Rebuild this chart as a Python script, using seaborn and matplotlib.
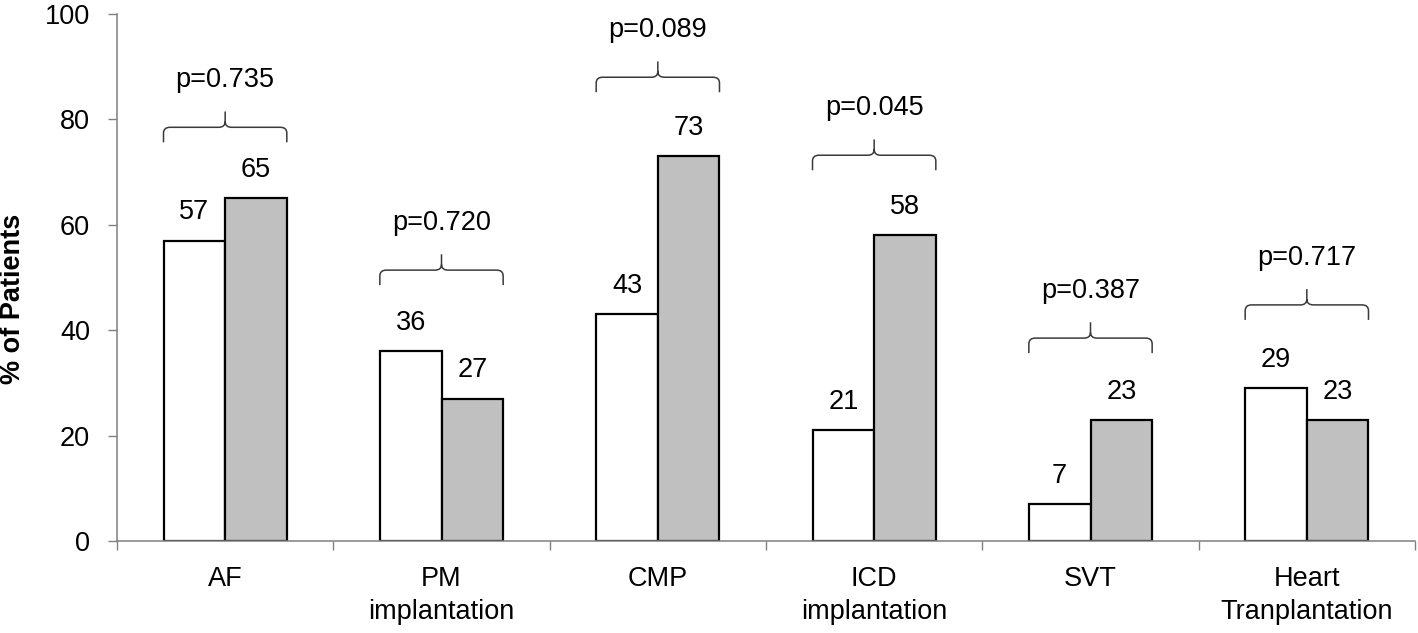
import numpy as np
import pandas as pd
import matplotlib
matplotlib.use("Agg")
import matplotlib.pyplot as plt
from matplotlib.path import Path
from matplotlib.patches import PathPatch
import seaborn as sns

# Values
categories = ["AF", "PM\nimplantation", "CMP", "ICD\nimplantation", "SVT", "Heart\nTranplantation"]
group_a = [57, 36, 43, 21, 7, 29]
group_b = [65, 27, 73, 58, 23, 23]
p_values = ["p=0.735", "p=0.720", "p=0.089", "p=0.045", "p=0.387", "p=0.717"]
brace_levels = [78.5, 51.4, 88.0, 73.2, 38.5, 44.8]

FS = 19.5

sns.set_style("ticks")
plt.rcParams["font.family"] = ["Liberation Sans", "DejaVu Sans"]
plt.rcParams.update({
    "text.color": "black",
    "axes.labelcolor": "black",
    "xtick.labelcolor": "black",
    "ytick.labelcolor": "black",
})

df = pd.DataFrame({
    "category": categories * 2,
    "group": ["A"] * len(categories) + ["B"] * len(categories),
    "percent": group_a + group_b,
})

fig = plt.figure(figsize=(14.18, 6.33), dpi=100)
ax = fig.add_axes([117 / 1418, 92 / 633, 1298 / 1418, 527 / 633])

sns.barplot(
    data=df, x="category", y="percent", hue="group", order=categories,
    palette=["white", "#c0c0c0"], edgecolor="black", linewidth=1.6,
    width=0.57, legend=False, ax=ax,
)

# value labels above bars
for cont in ax.containers:
    ax.bar_label(cont, padding=11, fontsize=FS, color="black")

# curly braces with p-values over each pair
axis_gray = "#808080"
brace_color = "#3a3a3a"
drop, rise, rx, ry = 2.85, 3.0, 0.03, 1.1
for i, h in enumerate(brace_levels):
    left_bar = ax.containers[0][i]
    right_bar = ax.containers[1][i]
    x0 = left_bar.get_x()
    x1 = right_bar.get_x() + right_bar.get_width()
    xm = (x0 + x1) / 2
    verts = [
        (xm, h + rise), (xm, h + ry), (xm, h), (xm - rx, h),
        (x0 + rx, h), (x0, h), (x0, h - ry), (x0, h - drop),
        (xm, h + ry), (xm, h), (xm + rx, h),
        (x1 - rx, h), (x1, h), (x1, h - ry), (x1, h - drop),
    ]
    codes = [
        Path.MOVETO, Path.LINETO, Path.CURVE3, Path.CURVE3,
        Path.LINETO, Path.CURVE3, Path.CURVE3, Path.LINETO,
        Path.MOVETO, Path.CURVE3, Path.CURVE3,
        Path.LINETO, Path.CURVE3, Path.CURVE3, Path.LINETO,
    ]
    ax.add_patch(PathPatch(Path(verts, codes), fill=False,
                           edgecolor=brace_color, linewidth=1.1))
    ax.annotate(p_values[i], (xm, h), xytext=(0, 29), textcoords="offset points",
                ha="center", va="baseline", fontsize=FS)

ax.set_ylim(0, 100)
ax.set_xlim(-0.5, len(categories) - 0.5)
ax.set_yticks(range(0, 101, 20))

# ticks between categories, labels at category centres
ax.set_xticks(np.arange(-0.5, len(categories), 1))
ax.set_xticklabels([])
ax.set_xticks(range(len(categories)), minor=True)
ax.set_xticklabels(categories, minor=True)
ax.tick_params(axis="x", which="major", length=6.5, width=1, color=axis_gray)
ax.tick_params(axis="x", which="minor", length=0, pad=18, labelsize=FS)
for lbl in ax.get_xticklabels(minor=True):
    lbl.set_linespacing(1.35)
ax.tick_params(axis="y", length=6.5, width=1, color=axis_gray, pad=13, labelsize=FS)

sns.despine(ax=ax)
for side in ["left", "bottom"]:
    ax.spines[side].set_color(axis_gray)
    ax.spines[side].set_linewidth(1.1)

ax.set_xlabel("")
ax.set_ylabel("% of Patients", fontsize=FS, fontweight="bold")
ax.yaxis.set_label_coords(-0.070, 0.46)

fig.savefig("out.png", dpi=100)
